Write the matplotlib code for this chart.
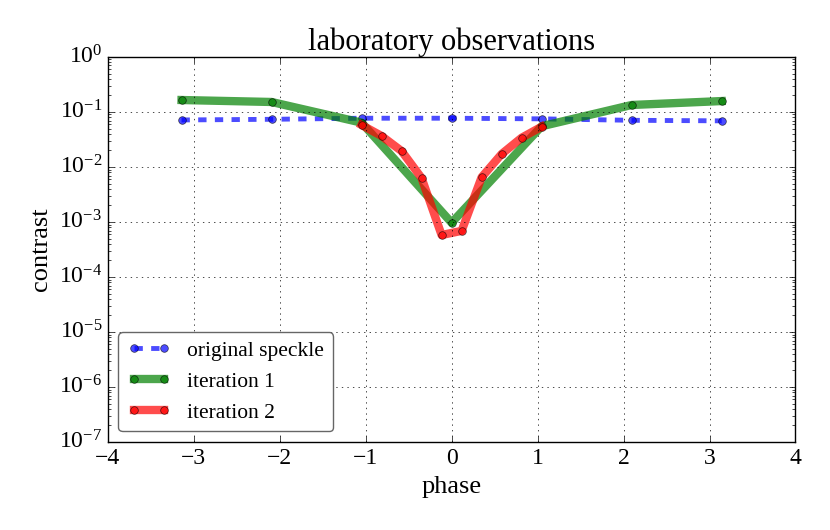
import numpy as np
import matplotlib
matplotlib.use('Agg')
from matplotlib import pyplot as plt

plt.style.use('classic')
plt.rcParams['font.family'] = ['Liberation Serif', 'DejaVu Serif']
plt.rcParams['mathtext.fontset'] = 'custom'
plt.rcParams['mathtext.rm'] = 'Liberation Serif'
plt.rcParams['mathtext.it'] = 'Liberation Serif:italic'
plt.rcParams['mathtext.bf'] = 'Liberation Serif:bold'

# phases of the probe points
phase_coarse = [-3.1416, -2.0944, -1.0472, 0.0, 1.0472, 2.0944, 3.1416]
phase_fine = [-1.0472, -0.8145, -0.5818, -0.3491, -0.1164,
              0.1164, 0.3491, 0.5818, 0.8145, 1.0472]

# contrast values
speckle = [0.0716, 0.0736, 0.077, 0.077, 0.075, 0.0706, 0.069]
iter1 = [0.165, 0.152, 0.064, 0.00097, 0.055, 0.134, 0.158]
iter2 = [0.058, 0.0366, 0.0195, 0.0063, 0.00058,
         0.00069, 0.0065, 0.0172, 0.034, 0.054]

fig = plt.figure(figsize=(8.3, 5.3), dpi=100)
fig.patch.set_facecolor('white')
ax = fig.add_axes([0.1298, 0.166, 0.8286, 0.7265])

ax.semilogy(phase_coarse, speckle, 'b--o', lw=3.5, alpha=0.7, ms=5.5,
            label='original speckle')
ax.semilogy(phase_coarse, iter1, 'g-o', lw=6, alpha=0.7, ms=5.5,
            label='iteration 1')
ax.semilogy(phase_fine, iter2, 'r-o', lw=6, alpha=0.7, ms=5.5,
            label='iteration 2')

ax.set_xlim(-4, 4)
ax.set_ylim(1e-7, 1e0)
ax.set_xticks([-4, -3, -2, -1, 0, 1, 2, 3, 4])
ax.tick_params(labelsize=17)
ax.grid(True)
ax.set_title('laboratory observations', fontsize=22)
ax.set_xlabel('phase', fontsize=19)
ax.set_ylabel('contrast', fontsize=19)

leg = ax.legend(loc='lower left', fontsize=15.5, fancybox=True, numpoints=2)
leg.get_frame().set_edgecolor('0.4')

plt.savefig('out.png', dpi=100, facecolor='white')
plt.close()
